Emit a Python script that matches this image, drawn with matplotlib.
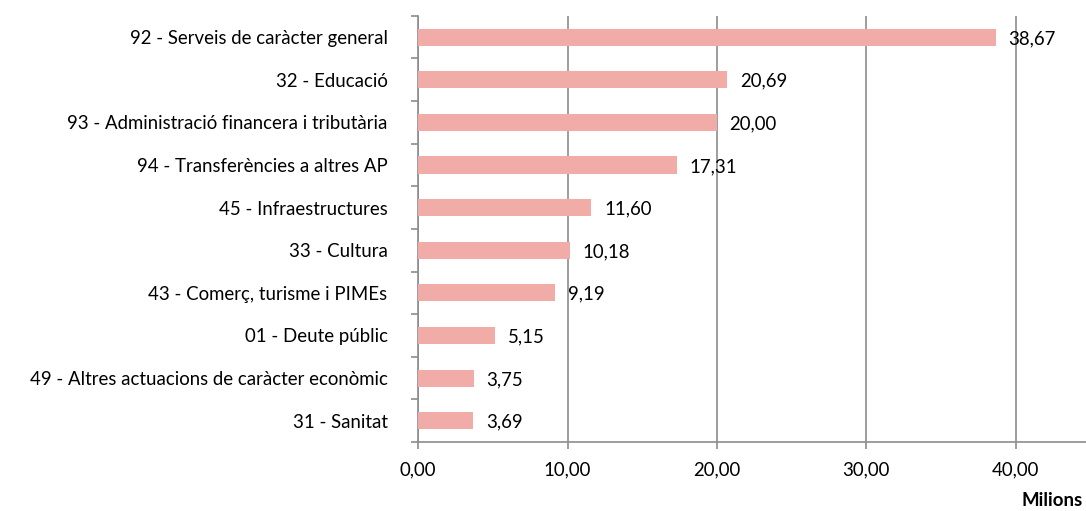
import matplotlib.pyplot as plt
from matplotlib.ticker import FuncFormatter

plt.rcParams['font.family'] = ['Lato', 'DejaVu Sans']

categories = [
    '92 - Serveis de caràcter general',
    '32 - Educació',
    '93 - Administració financera i tributària',
    '94 - Transferències a altres AP',
    '45 - Infraestructures',
    '33 - Cultura',
    '43 - Comerç, turisme i PIMEs',
    '01 - Deute públic',
    '49 - Altres actuacions de caràcter econòmic',
    '31 - Sanitat',
]
values = [38.67, 20.69, 20.00, 17.31, 11.60, 10.18, 9.19, 5.15, 3.75, 3.69]
x_ticks = [0, 10, 20, 30, 40]

bar_color = '#F2ACA8'
grid_color = '#8C8C8C'
fs = 13.4

fig = plt.figure(figsize=(10.86, 5.11), dpi=100)
ax = fig.add_axes([0.385, 0.135, 0.615, 0.834])

pos = list(range(len(categories)))
ax.barh(pos, values, height=0.4, color=bar_color, zorder=3)
ax.set_ylim(len(categories) - 0.5, -0.5)
ax.set_xlim(0, 44.7)

def fmt(v):
    return f'{v:.2f}'.replace('.', ',')

for p, v in zip(pos, values):
    ax.annotate(fmt(v), (v, p), xytext=(9, 0), textcoords='offset points',
                ha='left', va='center_baseline', fontsize=fs, color='#000000', zorder=5)

ax.set_xticks(x_ticks)
ax.xaxis.set_major_formatter(FuncFormatter(lambda v, _: fmt(v)))
ax.set_yticks(pos)
ax.set_yticklabels(categories)
ax.set_yticks([p + 0.5 for p in [-1] + pos], minor=True)
ax.tick_params(axis='y', which='major', length=0, pad=22, labelsize=fs)
ax.tick_params(axis='y', which='minor', length=5, width=1.2, color=grid_color)
ax.tick_params(axis='x', length=5, width=1.2, color=grid_color, pad=9, labelsize=fs)

ax.grid(axis='x', color=grid_color, linewidth=1.2, zorder=0)
for s in ['top', 'right']:
    ax.spines[s].set_visible(False)
for s in ['left', 'bottom']:
    ax.spines[s].set_color(grid_color)
    ax.spines[s].set_linewidth(1.2)

fig.text(0.997, 0.003, 'Milions', ha='right', va='bottom', fontsize=fs, fontweight='bold')

fig.savefig('out.png', dpi=100)
